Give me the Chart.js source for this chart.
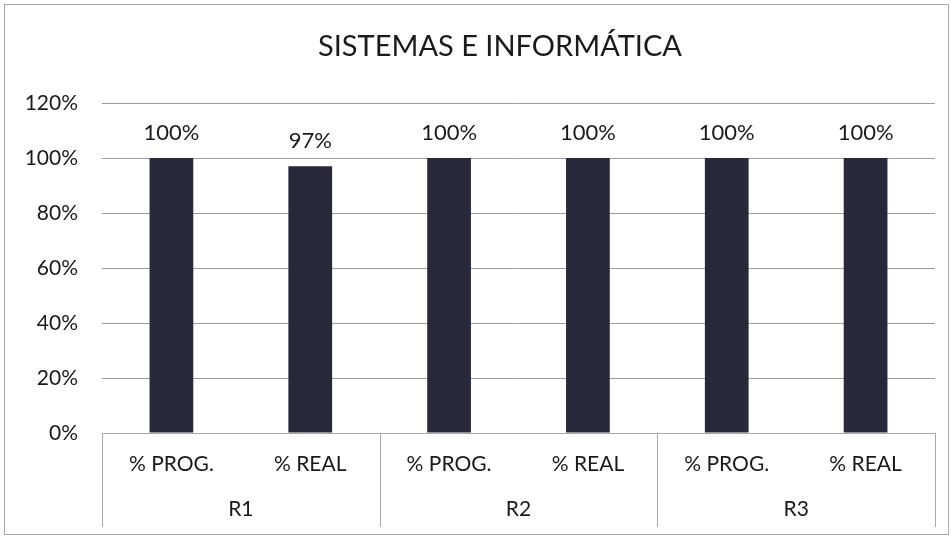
<!DOCTYPE html>
<html>
<head>
<meta charset="utf-8">
<script src="https://cdn.jsdelivr.net/npm/chart.js@4/dist/chart.umd.min.js"></script>
<style>
html,body{margin:0;padding:0;background:#fff;}
#wrap{width:951px;height:536px;position:relative;}
</style>
</head>
<body>
<div id="wrap"><canvas id="c" width="951" height="536"></canvas></div>
<script>
const chartTitle = 'SISTEMAS E INFORMÁTICA';
const categories = ['% PROG.', '% REAL', '% PROG.', '% REAL', '% PROG.', '% REAL'];
const groups = ['R1', 'R2', 'R3'];
const values = [100, 97, 100, 100, 100, 100];
const yMin = 0, yMax = 120, yStep = 20;

const FONT = 'Lato, "Open Sans", sans-serif';
const TXT = '#1a1a1a';

const frame = {
  id: 'frame',
  beforeDraw(chart) {
    const c = chart.ctx;
    c.save();
    c.fillStyle = '#fff';
    c.fillRect(0, 0, chart.width, chart.height);
    c.strokeStyle = '#a8a8a8';
    c.lineWidth = 1;
    c.strokeRect(4.5, 4.5, chart.width - 7, chart.height - 6);
    c.fillStyle = TXT;
    c.font = '29px ' + FONT;
    c.textAlign = 'center';
    c.textBaseline = 'alphabetic';
    c.fillText(chartTitle, 500, 56);
    c.restore();
  },
  afterDraw(chart) {
    const xs = chart.scales.x, x2 = chart.scales.x2;
    const c = chart.ctx;
    c.save();
    c.strokeStyle = '#a8a8a8';
    c.lineWidth = 1;
    const bounds = [-0.5, 1.5, 3.5, 5.5];
    c.beginPath();
    bounds.forEach(b => {
      const px = Math.round(xs.getPixelForValue(b)) + 0.5;
      c.moveTo(px, chart.chartArea.bottom);
      c.lineTo(px, x2.bottom);
    });
    c.stroke();
    c.restore();
  },
  afterDatasetsDraw(chart) {
    const c = chart.ctx;
    const meta = chart.getDatasetMeta(0);
    c.save();
    c.fillStyle = TXT;
    c.font = '22px ' + FONT;
    c.textAlign = 'center';
    c.textBaseline = 'alphabetic';
    meta.data.forEach((bar, i) => {
      c.fillText(values[i] + '%', bar.x, bar.y - 18);
    });
    c.restore();
  }
};

new Chart(document.getElementById('c'), {
  type: 'bar',
  data: {
    labels: categories,
    datasets: [{
      data: values,
      backgroundColor: '#28283a',
      barPercentage: 0.315,
      categoryPercentage: 1.0
    }]
  },
  options: {
    responsive: false,
    animation: false,
    events: [],
    layout: { padding: { left: 0, right: 16, top: 103, bottom: 9 } },
    plugins: {
      legend: { display: false },
      tooltip: { enabled: false },
      title: { display: false }
    },
    scales: {
      y: {
        min: yMin, max: yMax,
        ticks: {
          stepSize: yStep,
          padding: 24,
          color: TXT,
          font: { family: FONT, size: 21 },
          callback: v => v + '%'
        },
        grid: { color: '#9c9c9c', drawTicks: false },
        border: { display: false },
        afterFit: s => { s.width = 102; }
      },
      x: {
        position: 'bottom',
        ticks: { padding: 19, color: TXT, font: { family: FONT, size: 21 }, maxRotation: 0 },
        grid: { display: false, drawTicks: false },
        border: { display: true, color: '#a8a8a8' },
        afterFit: s => { s.height = 54; }
      },
      x2: {
        type: 'category',
        position: 'bottom',
        labels: groups,
        offset: true,
        ticks: { padding: 10, color: TXT, font: { family: FONT, size: 21 }, maxRotation: 0 },
        grid: { display: false, drawTicks: false },
        border: { display: false },
        afterFit: s => { s.height = 40; }
      }
    }
  },
  plugins: [frame]
});
</script>
</body>
</html>
